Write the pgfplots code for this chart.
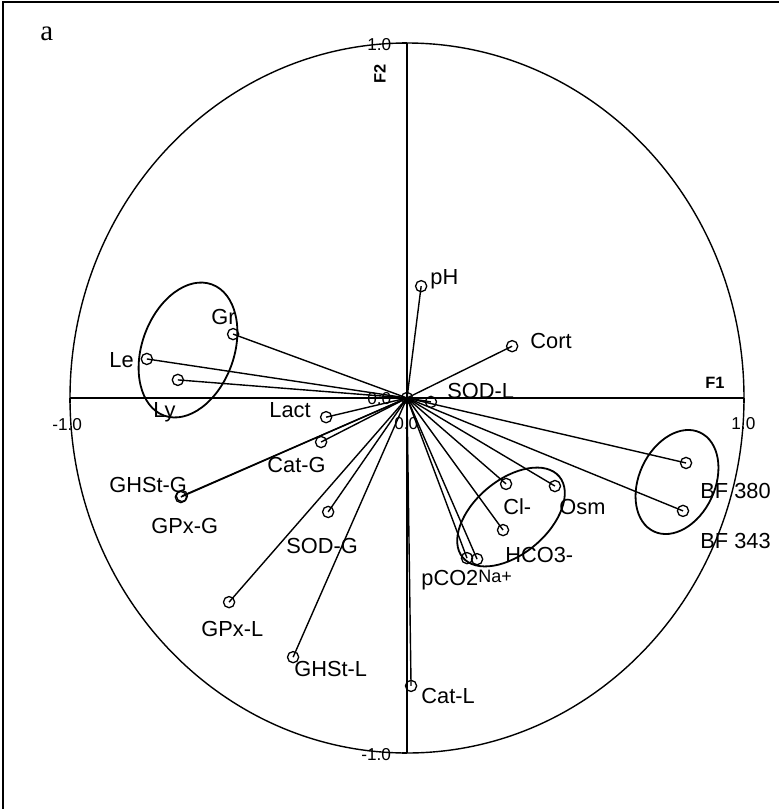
\documentclass[border=0pt]{standalone}
\usepackage{pgfplots}
\pgfplotsset{compat=1.18}
\usepackage{fontspec}
\setmainfont{Liberation Sans}
\newfontfamily\seriffont{Liberation Serif}
\begin{document}
\begin{tikzpicture}[x=0.5pt,y=-0.5pt]
\path[use as bounding box] (0,0) rectangle (779,809);
\draw[line width=1pt] (3,809) -- (3,1.5) -- (779,1.5);
\begin{axis}[at={(35pt,-376.5pt)}, anchor=south west, scale only axis,
  width=337pt, height=355pt, xmin=-1, xmax=1, ymin=-1, ymax=1,
  axis lines=none, clip=false,
  vec/.style={black, line width=0.7pt, mark=o, mark indices={2},
    mark size=2.8pt, mark options={solid, fill=white, line width=0.65pt}}]
% unit circle and axes
\draw[line width=0.7pt] (axis cs:0,0) ellipse [x radius=1, y radius=1];
\draw[line width=0.65pt] (axis cs:-1,0) -- (axis cs:1,0);
\draw[line width=0.65pt] (axis cs:0,-1) -- (axis cs:0,1);
\draw[line width=0.6pt] (axis cs:1,0) -- ++(0pt,-2.5pt);
\draw[line width=0.6pt] (axis cs:-1,0) -- ++(0pt,-2.5pt);
\draw[line width=0.6pt] (axis cs:0,1) -- ++(-2.5pt,0pt);
\draw[line width=0.6pt] (axis cs:0,-1) -- ++(-2.5pt,0pt);
% loading vectors
\addplot[vec] coordinates {(0,0) (0.042,0.315)};   % pH
\addplot[vec] coordinates {(0,0) (0.312,0.146)};   % Cort
\addplot[vec] coordinates {(0,0) (0.071,-0.011)};  % SOD-L
\addplot[vec] coordinates {(0,0) (-0.516,0.180)};  % Gr
\addplot[vec] coordinates {(0,0) (-0.772,0.110)};  % Le
\addplot[vec] coordinates {(0,0) (-0.680,0.051)};  % Ly
\addplot[vec] coordinates {(0,0) (-0.240,-0.054)}; % Lact
\addplot[vec] coordinates {(0,0) (-0.255,-0.124)}; % Cat-G
\addplot[vec] coordinates {(0,0) (-0.671,-0.279)}; % GHSt-G
\addplot[vec] coordinates {(0,0) (-0.668,-0.276)}; % GPx-G
\addplot[vec] coordinates {(0,0) (-0.234,-0.321)}; % SOD-G
\addplot[vec] coordinates {(0,0) (-0.528,-0.575)}; % GPx-L
\addplot[vec] coordinates {(0,0) (-0.338,-0.730)}; % GHSt-L
\addplot[vec] coordinates {(0,0) (0.012,-0.811)};  % Cat-L
\addplot[vec] coordinates {(0,0) (0.294,-0.242)};  % Cl-
\addplot[vec] coordinates {(0,0) (0.439,-0.248)};  % Osm
\addplot[vec] coordinates {(0,0) (0.285,-0.372)};  % HCO3-
\addplot[vec] coordinates {(0,0) (0.178,-0.451)};  % pCO2
\addplot[vec] coordinates {(0,0) (0.208,-0.454)};  % Na+
\addplot[vec] coordinates {(0,0) (0.828,-0.183)};  % BF 380
\addplot[vec] coordinates {(0,0) (0.819,-0.318)};  % BF 343
\addplot[only marks, mark=o, mark size=2.8pt, mark options={line width=0.65pt}] coordinates {(0,0)};
\end{axis}
% group ellipses
\draw[line width=0.9pt, rotate around={-20:(188,350)}] (188,350) ellipse [x radius=23pt, y radius=34.9pt];
\draw[line width=0.9pt, rotate around={-25:(677,482)}] (677,482) ellipse [x radius=19pt, y radius=27.3pt];
\draw[line width=0.9pt, rotate around={40:(511,517)}] (511,517) ellipse [x radius=31.5pt, y radius=18.5pt];
% tick labels
\begin{scope}[every node/.style={inner sep=0pt, font=\fontsize{8.6}{10}\selectfont}]
\node[anchor=base west] at (367,50) {1.0};
\node[anchor=base west] at (52,430) {-1.0};
\node[anchor=base west] at (731,429) {1.0};
\node[anchor=base west] at (367,404) {0.0};
\node[anchor=base west] at (394,429) {0.0};
\node[anchor=base west] at (361,760) {-1.0};
\node[anchor=base west, font=\fontsize{8.2}{9}\selectfont\bfseries] at (705,388) {F1};
\node[rotate=90, font=\fontsize{8.2}{9}\selectfont\bfseries] at (380,74) {F2};
\end{scope}
\node[anchor=base west, inner sep=0pt, font=\seriffont\fontsize{14.5}{16}\selectfont] at (40,40) {a};
% variable labels
\begin{scope}[every node/.style={inner sep=0pt, anchor=base west, font=\fontsize{10.9}{12}\selectfont}]
\node at (430,284) {pH};
\node at (530,348) {Cort};
\node at (447,398) {SOD-L};
\node at (211,324) {Gr};
\node at (109,367) {Le};
\node at (153,417) {Ly};
\node at (269,417) {Lact};
\node at (267,472) {Cat-G};
\node at (109,492) {GHSt-G};
\node at (151,533) {GPx-G};
\node at (286,553) {SOD-G};
\node at (201,636) {GPx-L};
\node at (294,676) {GHSt-L};
\node at (421,703) {Cat-L};
\node at (503,514) {Cl-};
\node at (559,514) {Osm};
\node at (505,562) {HCO3-};
\node at (421,585) {pCO2};
\node[font=\fontsize{9}{10}\selectfont] at (478,582) {Na+};
\node at (700,498) {BF 380};
\node at (700,548) {BF 343};
\end{scope}
\end{tikzpicture}
\end{document}
